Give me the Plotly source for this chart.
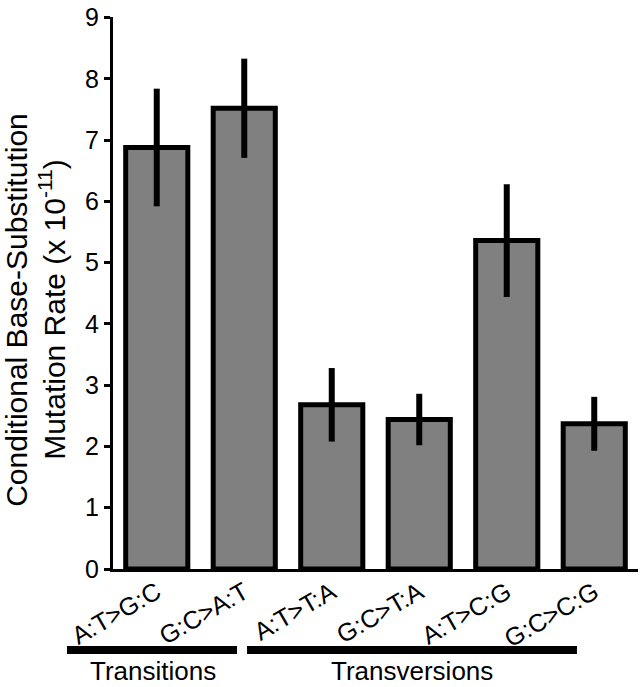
import plotly.graph_objects as go

categories = ["A:T>G:C", "G:C>A:T", "A:T>T:A", "G:C>T:A", "A:T>C:G", "G:C>C:G"]
rates = [6.88, 7.52, 2.68, 2.44, 5.36, 2.37]
errors = [0.96, 0.81, 0.60, 0.42, 0.92, 0.44]
y_ticks = [0, 1, 2, 3, 4, 5, 6, 7, 8, 9]
groups = ["Transitions", "Transversions"]

FONT = "Liberation Sans, Arial, sans-serif"

fig = go.Figure()
fig.add_trace(go.Bar(
    x=categories, y=rates, width=0.71,
    marker=dict(color="#808080", line=dict(color="black", width=5)),
    error_y=dict(type="data", array=errors, visible=True, color="black",
                 thickness=6, width=0),
))

W, H = 641, 687
ml, mr, mt, mb = 113, 3, 11, 118
pw = W - ml - mr
ph = H - mt - mb

def px_x(p):
    return (p - ml) / pw

def px_y(p):
    return (H - mb - p) / ph

fig.update_layout(
    width=W, height=H,
    margin=dict(l=ml, r=mr, t=mt, b=mb),
    plot_bgcolor="white", paper_bgcolor="white",
    showlegend=False,
    font=dict(family=FONT, color="black"),
    xaxis=dict(showline=True, linecolor="black", linewidth=3, ticks="",
               tickangle=-30, tickfont=dict(size=25, family=FONT),
               ticklabelstandoff=-4,
               showgrid=False, range=[-0.5, 5.5]),
    yaxis=dict(showline=True, linecolor="black", linewidth=3, ticks="outside",
               ticklen=6, tickwidth=3, tickcolor="black", tickvals=y_ticks,
               tickfont=dict(size=25, family=FONT), range=[0, 9.01],
               ticklabeloverflow="allow",
               showgrid=False, zeroline=False),
)

title_lines = ["Conditional Base-Substitution", "Mutation Rate (x 10<sup>-11</sup>)"]
for txt, xc in zip(title_lines, [17, 52]):
    fig.add_annotation(
        text=txt, xref="paper", yref="paper", x=px_x(xc), y=px_y(307),
        xanchor="center", yanchor="middle", textangle=-90, showarrow=False,
        font=dict(size=30, family=FONT, color="black"),
    )

# group bars and labels
fig.add_shape(type="line", xref="paper", yref="paper",
              x0=px_x(67), x1=px_x(237), y0=px_y(651), y1=px_y(651),
              line=dict(color="black", width=8))
fig.add_shape(type="line", xref="paper", yref="paper",
              x0=px_x(247), x1=px_x(577), y0=px_y(651), y1=px_y(651),
              line=dict(color="black", width=8))
fig.add_annotation(text=groups[0], xref="paper", yref="paper",
                   x=px_x(153), y=px_y(672), xanchor="center", yanchor="middle",
                   showarrow=False, font=dict(size=26, family=FONT, color="black"))
fig.add_annotation(text=groups[1], xref="paper", yref="paper",
                   x=px_x(412), y=px_y(672), xanchor="center", yanchor="middle",
                   showarrow=False, font=dict(size=26, family=FONT, color="black"))

fig.write_html("out.html", config={"displayModeBar": False},
               post_script="document.body.style.margin='0';")
